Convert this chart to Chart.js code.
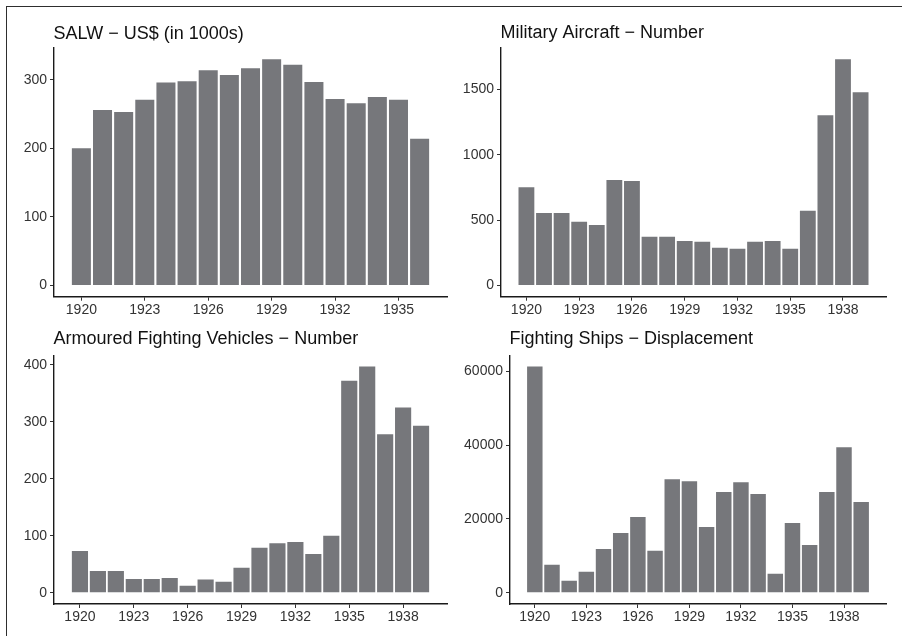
<!DOCTYPE html>
<html>
<head>
<meta charset="utf-8">
<title>Armaments 1920-1939</title>
<script src="https://cdn.jsdelivr.net/npm/chart.js@4.4.1/dist/chart.umd.min.js"></script>
<style>
  html, body { margin: 0; padding: 0; background: #fff; }
  body { width: 902px; height: 636px; position: relative; overflow: hidden; }
  .frame {
    position: absolute; left: 5.5px; top: 5.5px; width: 1000px; height: 1000px;
    border-top: 1.4px solid #2e2e2e; border-left: 1.4px solid #2e2e2e;
    pointer-events: none;
  }
  .panel { position: absolute; width: 451px; height: 318px; }
</style>
</head>
<body>
<div class="panel" style="left:0;top:0"><canvas id="salwChart"></canvas></div>
<div class="panel" style="left:451px;top:0"><canvas id="aircraftChart"></canvas></div>
<div class="panel" style="left:0;top:318px"><canvas id="afvChart"></canvas></div>
<div class="panel" style="left:451px;top:318px"><canvas id="shipChart"></canvas></div>
<div class="frame"></div>
<script>
// years on the x axis
const salwYears = [1920, 1921, 1922, 1923, 1924, 1925, 1926, 1927, 1928, 1929, 1930, 1931, 1932, 1933, 1934, 1935, 1936];
const fullYears = [1920, 1921, 1922, 1923, 1924, 1925, 1926, 1927, 1928, 1929, 1930, 1931, 1932, 1933, 1934, 1935, 1936, 1937, 1938, 1939];

// values
const salwValues = [200, 256, 253, 271, 296, 298, 314, 307, 317, 330, 322, 297, 272, 266, 275, 271, 214];
const aircraftValues = [752, 555, 555, 487, 463, 807, 800, 372, 372, 341, 334, 288, 280, 334, 341, 280, 571, 1304, 1732, 1480];
const afvValues = [73, 38, 38, 24, 24, 26, 12, 23, 19, 44, 79, 87, 89, 68, 100, 372, 397, 278, 325, 293];
const shipValues = [61350, 7570, 3240, 5680, 11890, 16220, 20540, 11350, 30810, 30270, 17840, 27300, 30000, 26760, 5140, 18920, 12970, 27300, 39460, 24600];

// tick labels
const salwXTicks = [1920, 1923, 1926, 1929, 1932, 1935];
const fullXTicks = [1920, 1923, 1926, 1929, 1932, 1935, 1938];
const salwYTicks = [0, 100, 200, 300];
const aircraftYTicks = [0, 500, 1000, 1500];
const afvYTicks = [0, 100, 200, 300, 400];
const shipYTicks = [0, 20000, 40000, 60000];

// panel titles
const salwTitle = 'SALW \u2212 US$ (in 1000s)';
const aircraftTitle = 'Military Aircraft \u2212 Number';
const afvTitle = 'Armoured Fighting Vehicles \u2212 Number';
const shipTitle = 'Fighting Ships \u2212 Displacement';

const BAR_COLOR = '#76777b';
const AXIS_COLOR = '#1a1a1a';
const TEXT_COLOR = '#333';
const FONT = '"Liberation Sans", Arial, sans-serif';

// draws the title left aligned with the panel, like ggplot does
const panelTitle = {
  id: 'panelTitle',
  afterDraw(chart, args, opts) {
    const { ctx, chartArea } = chart;
    ctx.save();
    ctx.font = `18px ${FONT}`;
    ctx.fillStyle = '#111';
    ctx.textBaseline = 'alphabetic';
    ctx.fillText(opts.text, chartArea.left - 0.5, opts.baseline);
    ctx.restore();
  }
};

// area = where the panel box (axis lines) sits inside the 451x318 cell
function makePanel(canvasId, years, values, xTicks, yTicks, title, area) {
  const ctx = document.getElementById(canvasId);
  const span = years[years.length - 1] - years[0] + 0.9;
  const xMin = years[0] - 0.45 - span * 0.05;
  const xMax = years[years.length - 1] + 0.45 + span * 0.05;
  const top = Math.max(...values);
  const yMin = -top * 0.05;
  const yMax = top * 1.05;

  const points = years.map((year, i) => ({ x: year, y: values[i] }));

  const config = {
    type: 'bar',
    data: {
      datasets: [{
        data: points,
        backgroundColor: BAR_COLOR,
        borderWidth: 0,
        barPercentage: 0.9,
        categoryPercentage: 1
      }]
    },
    options: {
      responsive: false,
      animation: false,
      events: [],
      layout: {
        padding: { left: 0, top: area.top, right: 451 - area.right, bottom: 0 }
      },
      plugins: {
        legend: { display: false },
        tooltip: { enabled: false },
        panelTitle: { text: title, baseline: area.titleY }
      },
      scales: {
        x: {
          type: 'linear',
          min: xMin,
          max: xMax,
          offset: false,
          grid: { display: true, offset: false, drawOnChartArea: false, drawTicks: true, tickLength: 4, color: '#333', lineWidth: 1 },
          border: { display: true, color: AXIS_COLOR, width: 1.4 },
          ticks: {
            color: TEXT_COLOR,
            font: { family: FONT, size: 14 },
            padding: 1,
            maxRotation: 0,
            autoSkip: false,
            callback: (v) => String(v)
          },
          afterBuildTicks: (scale) => { scale.ticks = xTicks.map((v) => ({ value: v })); },
          afterFit: (scale) => { scale.height = 318 - area.bottom; }
        },
        y: {
          type: 'linear',
          min: yMin,
          max: yMax,
          grid: { display: true, drawOnChartArea: false, drawTicks: true, tickLength: 4, color: '#333', lineWidth: 1 },
          border: { display: true, color: AXIS_COLOR, width: 1.4 },
          ticks: {
            color: TEXT_COLOR,
            font: { family: FONT, size: 14 },
            padding: 3,
            callback: (v) => String(v)
          },
          afterBuildTicks: (scale) => { scale.ticks = yTicks.map((v) => ({ value: v })); },
          afterFit: (scale) => { scale.width = area.left; }
        }
      }
    },
    plugins: [panelTitle]
  };

  ctx.width = 451;
  ctx.height = 318;
  return new Chart(ctx, config);
}

function mainEvent() {
  makePanel('salwChart', salwYears, salwValues, salwXTicks, salwYTicks, salwTitle,
    { left: 54, top: 48, right: 447, bottom: 296.7, titleY: 38.5 });
  makePanel('aircraftChart', fullYears, aircraftValues, fullXTicks, aircraftYTicks, aircraftTitle,
    { left: 50, top: 48, right: 435, bottom: 296.7, titleY: 38 });
  makePanel('afvChart', fullYears, afvValues, fullXTicks, afvYTicks, afvTitle,
    { left: 54, top: 37.3, right: 447, bottom: 286, titleY: 26 });
  makePanel('shipChart', fullYears, shipValues, fullXTicks, shipYTicks, shipTitle,
    { left: 59, top: 37.3, right: 435, bottom: 286, titleY: 26 });
}

document.addEventListener('DOMContentLoaded', () => mainEvent());
</script>
</body>
</html>
